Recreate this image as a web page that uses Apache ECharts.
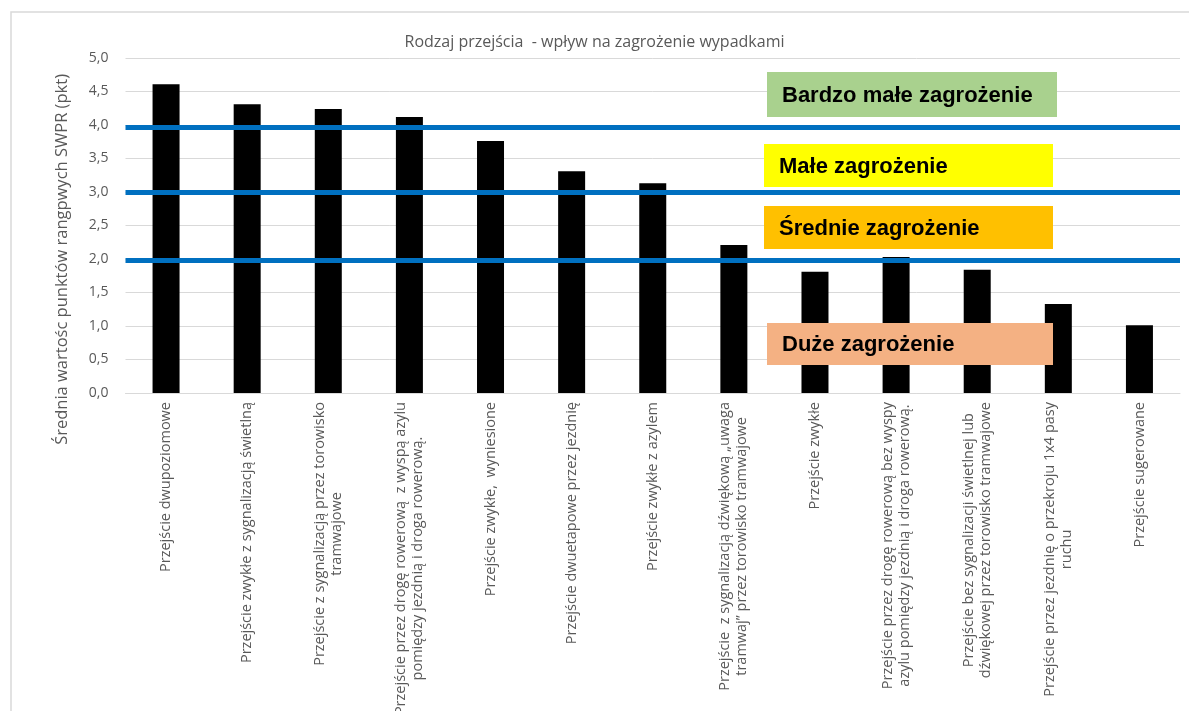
<!DOCTYPE html>
<html>
<head>
<meta charset="utf-8">
<script src="https://cdn.jsdelivr.net/npm/echarts@6/dist/echarts.min.js"></script>
<style>
  html, body { margin: 0; padding: 0; background: #fff; }
  #chartBox { width: 1189px; height: 711px; }
</style>
</head>
<body>
<div id="chartBox"></div>
<script>
// kategorie (osobne linie etykiety rozdzielone \n)
const categories = [
  "Przejście dwupoziomowe",
  "Przejście zwykłe z sygnalizacją świetlną",
  "Przejście z sygnalizacją przez torowisko\ntramwajowe",
  "Przejście przez drogę rowerową  z wyspą azylu\npomiędzy jezdnią i droga rowerową.",
  "Przejście zwykłe,  wyniesione",
  "Przejście dwuetapowe przez jezdnię",
  "Przejście zwykłe z azylem",
  "Przejście  z sygnalizacją dźwiękową „uwaga\ntramwaj” przez torowisko tramwajowe",
  "Przejście zwykłe",
  "Przejście przez drogę rowerową bez wyspy\nazylu pomiędzy jezdnią i droga rowerową.",
  "Przejście bez sygnalizacji świetlnej lub\ndźwiękowej przez torowisko tramwajowe",
  "Przejście przez jezdnię o przekroju 1x4 pasy\nruchu",
  "Przejście sugerowane"
];
const swprValues = [4.61, 4.31, 4.24, 4.12, 3.76, 3.31, 3.13, 2.21, 1.81, 2.03, 1.84, 1.33, 1.01];
const thresholds = [3.97, 3.0, 1.98];
const zoneLabels = ["Bardzo małe zagrożenie", "Małe zagrożenie", "Średnie zagrożenie", "Duże zagrożenie"];
const yTicks = [0, 0.5, 1, 1.5, 2, 2.5, 3, 3.5, 4, 4.5, 5];
const yTitle = "Średnia wartośc punktów rangpwych SWPR (pkt)";

var chart = echarts.init(document.getElementById("chartBox"));
const grayText = "#595959";
const font = "'Open Sans', sans-serif";

// kolorowe ramki z opisem stref
function zoneBox(label, x, y, w, h, fill) {
  return {
    type: "group",
    children: [
      { type: "rect", shape: { x: x, y: y, width: w, height: h }, style: { fill: fill }, z: 100 },
      {
        type: "text", x: x + 15, y: y + h / 2 + 1, z: 101,
        style: { text: label, fill: "#000", font: "bold 22px 'Liberation Sans', Arial, sans-serif", textVerticalAlign: "middle" }
      }
    ]
  };
}

var option = {
  animation: false,
  backgroundColor: "#fff",
  title: {
    text: "Rodzaj przejścia  - wpływ na zagrożenie wypadkami",
    left: "center",
    top: 29,
    textStyle: { color: grayText, fontWeight: "normal", fontSize: 16, fontFamily: font }
  },
  grid: { left: 125.5, right: 9, top: 58, bottom: 318, outerBoundsMode: "none" },
  xAxis: {
    type: "category",
    data: categories,
    axisTick: { show: false },
    axisLine: { lineStyle: { color: "#D9D9D9", width: 1 } },
    axisLabel: {
      interval: 0,
      rotate: 90,
      margin: 9,
      formatter: function (v) {
        return v.split("\n").map((l) => "{c|" + l + "}").join("\n");
      },
      rich: {
        c: { align: "center", color: grayText, fontSize: 14.5, fontFamily: font, lineHeight: 17 }
      }
    }
  },
  yAxis: {
    type: "value",
    min: yTicks[0],
    max: yTicks[yTicks.length - 1],
    interval: 0.5,
    axisLabel: {
      color: grayText, fontSize: 14, fontFamily: font, margin: 17,
      formatter: (v) => v.toFixed(1).replace(".", ",")
    },
    axisLine: { show: false },
    splitLine: { lineStyle: { color: "#D9D9D9", width: 1 } }
  },
  series: [
    {
      type: "bar",
      data: swprValues,
      barWidth: 27,
      itemStyle: { color: "#000" },
      markLine: {
        silent: true,
        symbol: "none",
        label: { show: false },
        lineStyle: { color: "#0070C0", width: 5, type: "solid" },
        data: thresholds.map((t) => ({ yAxis: t }))
      }
    }
  ],
  graphic: [
    {
      type: "rect", z: -1,
      shape: { x: 11, y: 12, width: 1190, height: 710 },
      style: { fill: "none", stroke: "#D9D9D9", lineWidth: 1.5 }
    },
    // tytuł osi Y (w oryginale wychodzi poza dolną krawędź)
    {
      type: "text", x: 62, y: 74, rotation: Math.PI / 2,
      style: { text: yTitle, fill: grayText, font: "16.5px 'Open Sans', sans-serif", textAlign: "right", textVerticalAlign: "middle" }
    },
    zoneBox(zoneLabels[0], 767, 72, 290, 45, "#A9D18E"),
    zoneBox(zoneLabels[1], 764, 144, 289, 43, "#FFFF00"),
    zoneBox(zoneLabels[2], 764, 206, 289, 43, "#FFC000"),
    zoneBox(zoneLabels[3], 767, 323, 286, 42, "#F4B183")
  ]
};
chart.setOption(option);
</script>
</body>
</html>
